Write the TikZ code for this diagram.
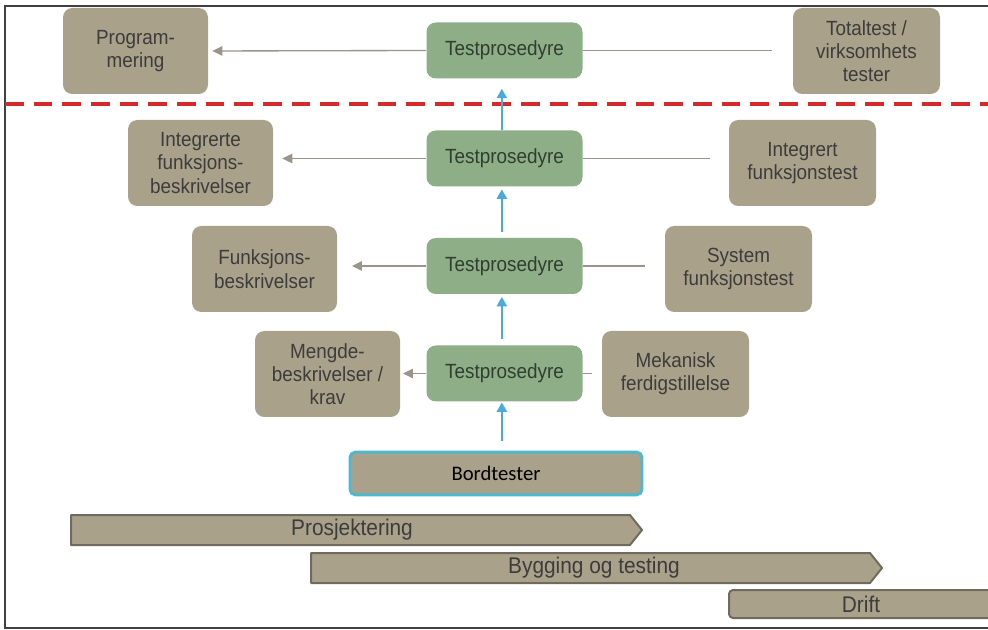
\documentclass[tikz,border=0pt]{standalone}
\usepackage{fontspec}
\setmainfont{Liberation Sans}
\newfontfamily\boxfont[FakeStretch=0.92]{Liberation Sans}
\newfontfamily\barfont[FakeStretch=0.92]{Liberation Sans}
\newfontfamily\calfont{Carlito}
\usetikzlibrary{arrows.meta}
\definecolor{khaki}{HTML}{A9A18A}
\definecolor{tpgreen}{HTML}{8EAE87}
\definecolor{boxtext}{HTML}{3C3C3C}
\definecolor{greentext}{HTML}{2F3E2F}
\definecolor{linegray}{HTML}{99958A}
\definecolor{arrowblue}{HTML}{4AAADC}
\definecolor{dashred}{HTML}{D42A2A}
\definecolor{bardark}{HTML}{6E6A5E}
\definecolor{cyanedge}{HTML}{4DB9CC}
\definecolor{framegray}{HTML}{404040}
\tikzset{
  tanbox/.style={fill=khaki, rounded corners=7pt, minimum width=108.75pt, minimum height=64.5pt,
    inner sep=0pt, align=center, text=boxtext, font=\boxfont\fontsize{15.4}{17.5}\selectfont},
  tpbox/.style={fill=tpgreen, rounded corners=7pt, minimum width=117pt, minimum height=42pt,
    inner sep=0pt, align=center, text=greentext, font=\boxfont\fontsize{15.4}{17.5}\selectfont},
  garrow/.style={draw=linegray, line width=1pt, -{Triangle[length=7.5pt,width=7pt]}},
  gline/.style={draw=linegray, line width=1pt},
  barrow/.style={draw=arrowblue, line width=1.5pt, -{Triangle[length=7pt,width=7.5pt]}},
  phasebar/.style={fill=khaki, draw=bardark, line width=1.5pt, line join=round},
  phasetext/.style={text=boxtext, inner sep=0pt, font=\barfont\fontsize{17}{19}\selectfont},
}
\begin{document}
\begin{tikzpicture}[x=0.75pt, y=-0.75pt]
\useasboundingbox (0,0) rectangle (988,630);
% frame
\draw[framegray, line width=1.2pt] (995,6) -- (5,6) -- (5,628) -- (995,628);
% red dashed line
\draw[dashred, line width=3pt, dash pattern=on 14pt off 7.5pt] (5,104) -- (988,104);

% row 1
\node[tanbox] (prog) at (135.5,51) {Program-\\mering};
\node[tpbox] (tp1) at (504.5,50.5) {Testprosedyre};
\node[tanbox, minimum width=110.25pt] (total) at (866.5,51) {Totaltest /\\virksomhets\\tester};
% row 2
\node[tanbox] (intb) at (200.5,163) {Integrerte\\funksjons-\\beskrivelser};
\node[tpbox] (tp2) at (504.5,158.5) {Testprosedyre};
\node[tanbox, minimum width=110.25pt] (intt) at (802.5,163) {Integrert\\funksjonstest};
% row 3
\node[tanbox] (funb) at (264.5,269) {Funksjons-\\beskrivelser};
\node[tpbox] (tp3) at (504.5,266) {Testprosedyre};
\node[tanbox, minimum width=110.25pt] (syst) at (738.5,269) {System\\funksjonstest};
% row 4
\node[tanbox] (meng) at (327.5,374) {Mengde-\\beskrivelser /\\krav};
\node[tpbox] (tp4) at (504.5,373.5) {Testprosedyre};
\node[tanbox, minimum width=110.25pt] (mek) at (675.5,374) {Mekanisk\\ferdigstillelse};
% bordtester
\node[fill=khaki, draw=cyanedge, line width=2.2pt, rounded corners=4pt, minimum width=219pt,
  minimum height=32pt, inner sep=0pt, font=\calfont\fontsize{15.5}{18}\selectfont, text=black]
  (bord) at (496,473.5) {Bordtester};

% gray connectors
\draw[garrow, shorten >=3pt] (tp1.west) -- (prog.east);
\draw[gline, shorten >=15.75pt] (tp1.east) -- (total.west |- tp1.east);
\draw[garrow, shorten >=6.75pt] (tp2.west) -- (intb.east |- tp2.west);
\draw[gline, shorten >=14.25pt] (tp2.east) -- (intt.west |- tp2.east);
\draw[garrow, shorten >=11pt] (tp3.west) -- (funb.east |- tp3.west);
\draw[gline, shorten >=15pt] (tp3.east) -- (syst.west |- tp3.east);
\draw[garrow, shorten >=2pt] (tp4.west) -- (meng.east |- tp4.west);
\draw[gline, shorten >=7.5pt] (tp4.east) -- (mek.west |- tp4.east);

% blue arrows
\draw[barrow, shorten <=7.5pt, shorten >=0.5pt] ([xshift=-2pt]bord.north -| tp4.south) -- ([xshift=-2pt]tp4.south);
\draw[barrow, shorten <=4.5pt, shorten >=2pt] ([xshift=-2pt]tp4.north) -- ([xshift=-2pt]tp3.south);
\draw[barrow, shorten <=4.5pt, shorten >=2pt] ([xshift=-2pt]tp3.north) -- ([xshift=-2pt]tp2.south);
\draw[barrow, shorten <=0pt, shorten >=7.5pt] ([xshift=-2pt]tp2.north) -- ([xshift=-2pt]tp1.south);

% phase bars
\draw[phasebar] (71,515) -- (630,515) -- (642,530) -- (630,545) -- (71,545) -- cycle;
\node[phasetext] (prosj) at (352,530) {Prosjektering};
\draw[phasebar] (311,553) -- (870,553) -- (882,568) -- (870,583) -- (311,583) -- cycle;
\node[phasetext] (bygg) at (594,568) {Bygging og testing};
\draw[phasebar, rounded corners=3pt] (729,590) -- (998,590) -- (998,618) -- (729,618) -- cycle;
\node[phasetext] (drift) at (861,604) {Drift};
\end{tikzpicture}
\end{document}
